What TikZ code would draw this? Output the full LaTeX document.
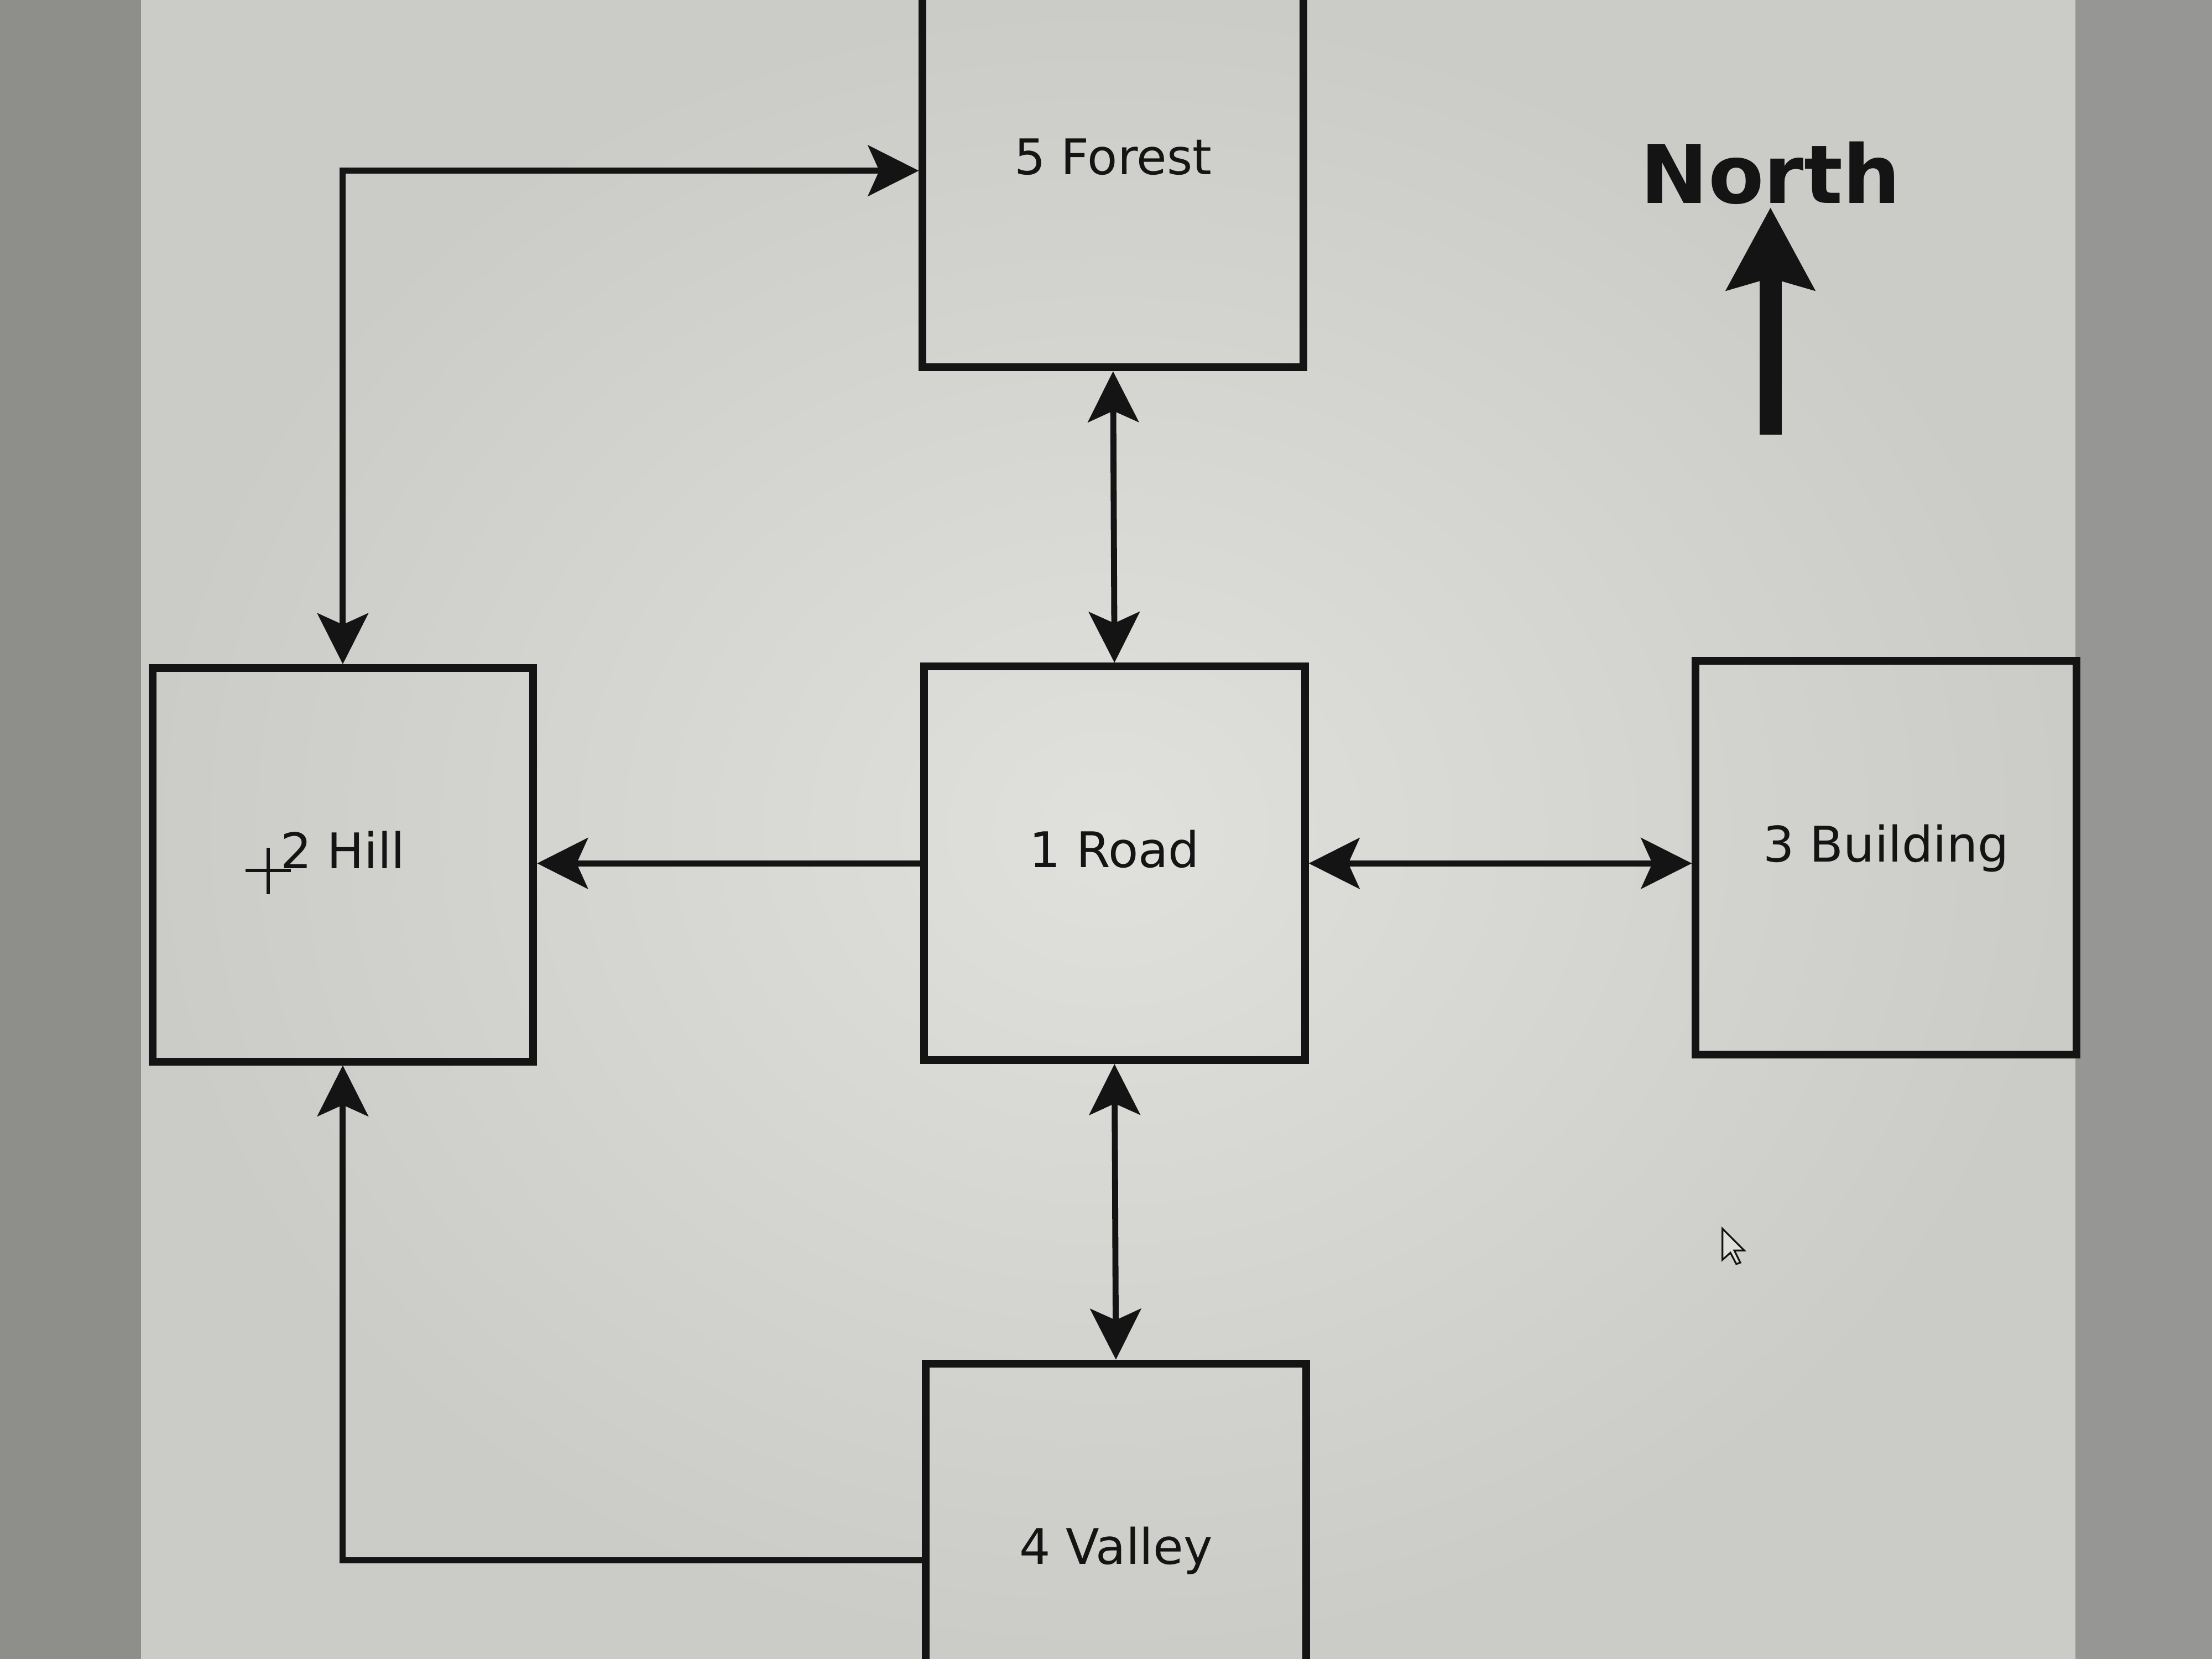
\documentclass[tikz,border=0pt]{standalone}
\usepackage{fontspec}
\setmainfont{DejaVu Sans}
\usetikzlibrary{arrows.meta}
\definecolor{ink}{HTML}{141414}
\definecolor{scrlight}{HTML}{E0E0DC}
\definecolor{scrdark}{HTML}{CBCBC7}
\definecolor{bezelL}{HTML}{8E8E8A}
\definecolor{bezelR}{HTML}{969694}
\begin{document}
\begin{tikzpicture}[x=0.02cm,y=-0.02cm,
  >={Stealth[length=0.72cm,width=0.72cm,inset=0.16cm]},
  room/.style={draw=ink, line width=0.11cm, minimum width=5.4cm, minimum height=5.58cm,
    inner sep=0pt, text height=0.6cm, text depth=0.49cm,
    font=\fontsize{19.8pt}{24pt}\selectfont, text=ink},
  conn/.style={draw=ink, line width=0.085cm},
  cursorline/.style={draw=ink, line width=0.045cm}]
\useasboundingbox (0,0) rectangle (1568,1176);
\clip (0,0) rectangle (1568,1176);
% screen and bezel
\fill[bezelL] (0,0) rectangle (100,1176);
\fill[bezelR] (1471,0) rectangle (1568,1176);
\shade[inner color=scrlight, outer color=scrdark] (100,0) rectangle (1471,1176);
% rooms
\node[room] (forest) at (789,121) {5 Forest};
\node[room] (road) at (790,612) {1 Road};
\node[room] (hill) at (243,613) {2 Hill};
\node[room] (building) at (1337,608) {3 Building};
\node[room] (valley) at (791,1106) {4 Valley};
% connectors
\draw[conn,<->] (hill.north) |- (forest.west);
\draw[conn,<->] (forest.south) -- (road.north);
\draw[conn,->] (road.west) -- (road.west -| hill.east);
\draw[conn,<->] (road.east) -- (road.east -| building.west);
\draw[conn,<->] (road.south) -- (valley.north);
\draw[conn,->] (valley.west) -| (hill.south);
% north marker
\node[anchor=base, text=ink, font=\fontsize{32.7pt}{38pt}\selectfont\bfseries] (north) at (1255,144) {North};
\coordinate (ntail) at (1255,308);
\coordinate (nhead) at (1255,147);
\draw[draw=ink, line width=0.314cm, -{Stealth[length=1.16cm,width=1.22cm,inset=0.16cm]}] (ntail) -- (nhead);
% crosshair cursor
\draw[cursorline] (174,617) -- (206,617);
\draw[cursorline] (190,601) -- (190,634);
% arrow cursor
\filldraw[draw=ink, fill=scrlight, line width=0.025cm, line join=miter]
  (1221,871) -- ++(0,22) -- ++(5.6,-5) -- ++(4.2,8) -- ++(2.8,-1) -- ++(-4.2,-8.6) -- ++(7,0) -- cycle;
\end{tikzpicture}
\end{document}
